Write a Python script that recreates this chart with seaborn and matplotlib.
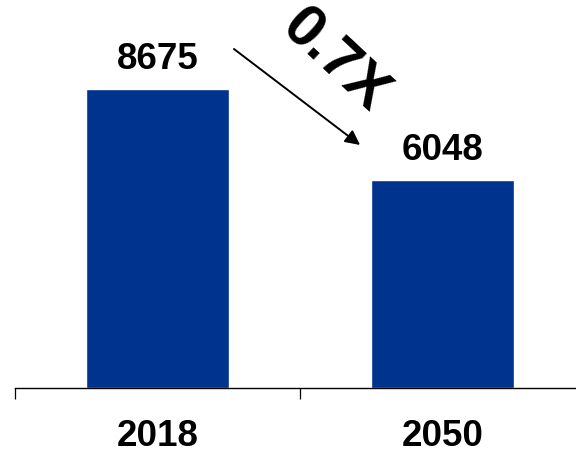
import matplotlib
matplotlib.use("Agg")
import matplotlib.pyplot as plt
import seaborn as sns
import pandas as pd

years = ["2018", "2050"]
values = [8675, 6048]
ratio_label = "0.7X"
bar_color = "#00338E"

sns.set_style("white")
plt.rcParams["font.family"] = ["Liberation Sans", "DejaVu Sans"]

df = pd.DataFrame({"year": years, "value": values})

fig = plt.figure(figsize=(5.76, 4.5), dpi=100)
ax = fig.add_axes([15.3 / 576, 62 / 450, 569.4 / 576, 344.7 / 450])

sns.barplot(data=df, x="year", y="value", color=bar_color, width=0.5,
            saturation=1, ax=ax)

ax.set_xlim(-0.5, 1.5)
ax.set_ylim(0, 10000)
ax.set_xlabel("")
ax.set_ylabel("")
ax.set_yticks([])
for s in ["left", "top", "right"]:
    ax.spines[s].set_visible(False)
ax.spines["bottom"].set_color("black")
ax.spines["bottom"].set_linewidth(1.0)

ax.set_xticks(range(len(years)))
ax.set_xticklabels(years, fontsize=26.5, fontweight="bold")
ax.tick_params(axis="x", which="major", length=0, pad=22, colors="black")
ax.set_xticks([-0.5, 0.5, 1.5], minor=True)
ax.tick_params(axis="x", which="minor", bottom=True, length=8, width=0.9,
               color="black", direction="out")

for i, v in enumerate(values):
    ax.annotate(f"{v}", xy=(i, v), xytext=(0, 14.4), textcoords="offset points",
                ha="center", va="baseline", fontsize=26.5, fontweight="bold",
                color="black")

ax.annotate("", xy=(0.711, 7050), xytext=(0.268, 9835),
            arrowprops=dict(arrowstyle="-|>", color="black", lw=1.4,
                            mutation_scale=22, shrinkA=0, shrinkB=0),
            annotation_clip=False)
ax.text(0.622, 9470, ratio_label, rotation=-43, ha="center", va="center",
        fontsize=43, fontweight="bold", color="black", clip_on=False)

fig.savefig("out.png", dpi=100)
